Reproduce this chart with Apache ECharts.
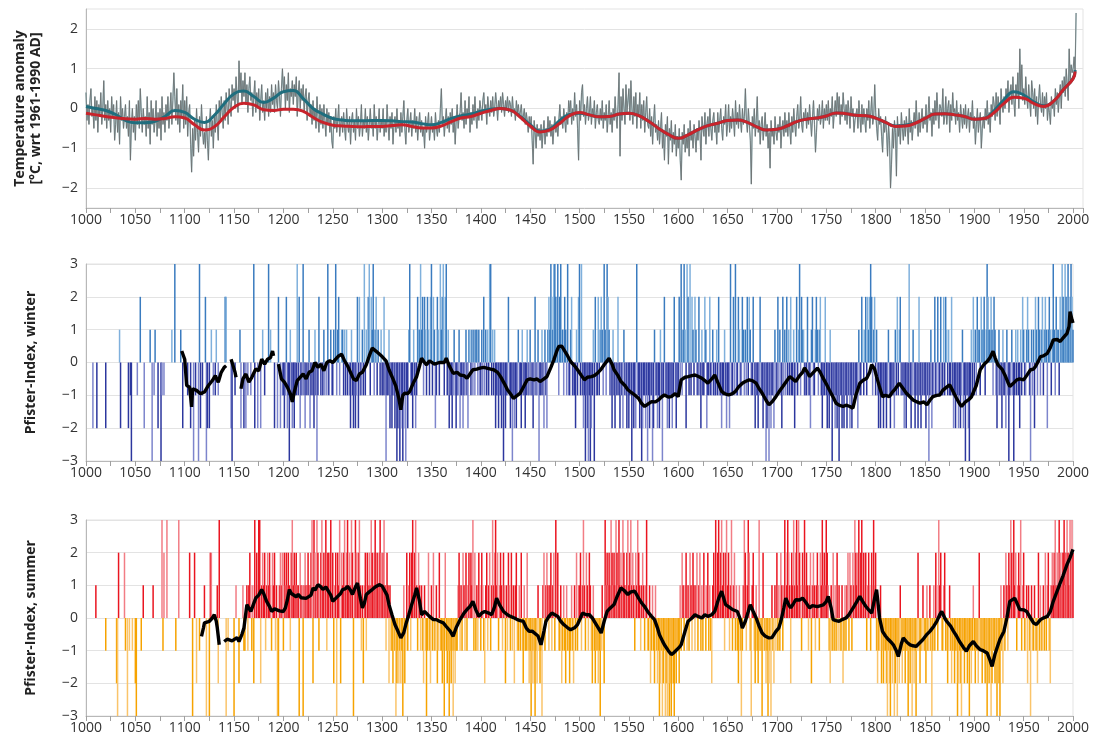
<!DOCTYPE html>
<html><head><meta charset="utf-8">
<script src="https://cdn.jsdelivr.net/npm/echarts@6/dist/echarts.min.js"></script>
<style>html,body{margin:0;padding:0;background:#fff}#c{width:1093px;height:740px}</style>
</head><body><div id="c"></div>
<script>
// ---- Temperature anomaly, annual values 1000..2003 ----
const tempStartYear = 1000;
const tempAnnual = [
0.4,-0.3,0.1,-0.4,0.2,0.5,-0.2,0.0,-0.5,0.3,
-0.3,0.2,-0.6,0.1,-0.2,0.4,-0.4,0.0,0.7,-0.3,
0.1,-0.5,0.2,-0.3,0.0,-0.6,0.3,-0.2,0.1,-0.8,
-0.4,0.2,-0.6,-0.1,-0.9,0.3,-0.3,0.0,-0.5,-0.2,
0.1,-0.5,-0.2,-0.7,0.2,-1.3,-0.4,0.0,-0.6,-0.2,
-0.8,0.1,-0.4,0.2,-0.5,0.5,-0.1,-0.6,0.0,-0.4,
-0.2,-0.7,0.3,-0.5,-0.1,-0.9,0.2,-0.4,0.0,-0.6,
-0.3,0.2,-0.7,-0.1,-0.5,0.0,-0.8,0.3,-0.4,-0.1,
-0.6,0.1,-0.3,0.3,-0.5,-0.1,0.4,-0.4,0.2,0.9,
0.3,-0.3,0.5,-0.4,0.1,-0.6,0.2,-0.2,0.6,-0.5,
0.2,-0.4,0.3,-0.7,-0.1,0.1,-0.9,-1.6,-0.5,-1.2,
-0.3,-0.8,0.0,-0.6,-1.1,-0.2,-0.7,0.1,-0.5,-0.9,
-0.6,-1.0,-0.2,-0.8,-1.3,-0.4,0.0,-0.7,-0.3,-1.0,
-0.2,-0.6,0.1,-0.4,-0.8,0.2,-0.3,0.3,-0.1,-0.5,
0.2,-0.3,0.4,0.0,-0.4,0.5,0.1,-0.2,0.6,0.2,
0.5,0.0,0.8,0.3,-0.1,1.2,0.4,0.9,0.1,0.7,
0.3,0.9,0.1,0.6,-0.1,0.5,0.8,0.2,0.4,-0.2,
0.3,0.7,-0.1,0.4,0.0,0.5,-0.3,0.2,0.6,-0.1,
0.2,-0.3,0.4,0.0,0.5,-0.2,0.3,-0.1,0.6,0.1,
0.4,-0.1,0.6,0.2,0.0,0.7,0.3,-0.2,0.5,1.0,
0.4,0.8,0.0,0.6,0.2,0.9,-0.1,0.5,0.3,0.7,
0.1,0.6,0.3,0.8,-0.2,0.4,0.7,0.0,0.5,0.2,
0.6,-0.1,0.3,0.5,-0.3,0.2,0.4,-0.2,0.1,-0.4,
0.2,-0.3,0.0,-0.5,0.3,-0.2,-0.6,0.1,-0.4,0.0,
-0.5,0.1,-0.3,-0.7,0.0,-0.4,-0.1,-0.6,-0.2,-0.8,
-1.0,-0.2,-0.5,0.0,-0.6,-0.3,0.1,-0.7,-0.4,-0.2,
-0.6,-0.1,-0.5,-0.8,0.0,-0.4,-0.6,-0.2,-0.9,-0.3,
-0.1,-0.6,-0.3,-0.8,0.0,-0.5,-0.2,-0.7,-0.4,0.1,
-0.7,-0.3,-0.5,0.0,-0.6,-0.2,-0.8,-0.4,0.0,-0.5,
-0.3,-0.7,0.1,-0.5,-0.2,-0.8,-0.4,0.0,-0.6,-0.3,
-0.5,0.0,-0.7,-0.3,-0.6,0.1,-0.4,-0.8,-0.2,-0.5,
-0.1,-0.9,-0.4,-0.2,-0.6,0.0,-0.5,-0.3,-0.7,-0.1,
-0.6,-0.2,0.2,-0.5,-0.9,-0.3,0.0,-0.6,-0.4,-0.1,
-0.7,-0.3,-0.5,0.0,-0.6,-0.2,-0.8,-0.4,-0.1,-0.6,
-0.3,-0.7,-0.5,-1.0,-0.2,-0.6,-0.4,-0.1,-0.8,-0.5,
-0.2,-0.6,-0.4,-0.8,-0.1,-0.5,-0.7,-0.3,-0.6,0.0,
0.5,-0.4,-0.2,-0.7,-0.3,0.0,-0.5,-0.2,-0.6,-0.1,
-0.4,0.0,-0.6,-0.2,-0.9,-0.3,0.1,-0.5,-0.2,-0.1,
0.4,-0.3,-0.1,-0.5,0.2,-0.4,0.0,-0.2,0.3,-0.6,
-0.1,-0.4,0.1,-0.3,0.3,-0.2,-0.5,0.0,-0.3,0.2,
0.0,-0.3,0.2,0.4,-0.1,0.1,-0.4,0.3,0.0,-0.2,
0.2,-0.1,0.3,-0.2,0.0,0.4,0.1,-0.3,0.2,0.0,
0.3,-0.1,0.4,0.1,-0.2,0.2,0.0,0.3,-0.1,0.2,
0.1,-0.2,0.3,-0.1,0.0,-0.3,0.2,-0.1,0.1,-0.2,
-0.1,0.1,-0.3,-0.2,0.0,-0.4,-0.1,-0.3,-0.6,-0.2,
-0.5,-0.2,-0.8,-1.4,-0.3,-0.6,-1.0,-0.4,-0.7,-0.5,
-0.8,-0.4,-1.0,-0.6,-0.3,-0.9,-0.5,-0.7,-0.2,-0.6,
-0.3,-0.7,-0.4,-0.9,-0.5,-0.2,-0.6,-0.4,-0.7,-0.3,
0.1,-0.4,-0.2,-0.5,0.0,-0.3,-0.6,-0.1,-0.4,0.2,
-0.1,0.2,-0.4,0.0,-0.3,0.4,-0.2,0.1,-0.5,-1.3,
0.2,-0.3,0.4,0.6,-0.2,0.1,-0.4,0.0,0.3,-0.3,
-0.1,0.3,-0.4,0.0,-0.2,0.2,-0.5,-0.1,0.1,-0.3,
-0.4,0.0,-0.3,0.2,-0.5,-0.1,-0.3,0.1,-0.6,-0.2,
0.2,-0.4,-0.1,-0.6,0.0,-0.3,0.3,-0.2,-0.5,0.1,
0.9,-1.2,0.3,-0.3,0.5,0.0,-0.4,0.6,-0.1,0.2,
0.5,-0.3,0.7,0.0,-0.4,0.3,-0.2,0.4,-0.5,0.1,
-0.2,0.4,-0.5,0.1,-0.3,0.2,-0.6,-0.1,0.3,-0.4,
-0.5,0.0,-0.7,-0.2,-0.9,-0.3,0.1,-0.6,-0.4,-0.8,
-0.3,-0.9,-0.5,-0.1,-1.0,-0.6,-1.3,-0.4,-0.7,-0.2,
-1.4,-0.5,-0.8,-0.3,-1.1,-0.6,-0.9,-0.4,-1.2,-0.7,
-1.0,-0.5,-1.3,-1.8,-0.6,-0.9,-0.4,-1.1,-0.7,-1.0,
-0.5,-1.2,-0.3,-0.8,-0.6,-1.0,-0.4,-0.7,-1.1,-0.5,
-0.8,-0.3,-0.6,-1.3,-0.2,-0.5,-0.7,-0.1,-0.9,-0.4,
-0.2,-0.7,0.0,-0.5,-0.8,-0.3,-0.1,-0.6,-0.4,-0.9,
-0.1,-0.6,-0.3,0.0,-0.5,-0.8,-0.2,-0.4,0.1,-0.7,
-0.4,0.1,-0.6,-0.2,-0.5,0.0,-0.3,-0.7,0.2,-0.4,
-0.1,-0.5,0.1,-0.3,-0.6,0.0,-0.4,-0.2,0.5,-0.3,
-0.6,0.0,-0.4,-0.8,-1.9,-0.2,-0.5,0.0,-0.7,-0.3,
0.3,-0.6,-0.3,-0.9,-0.4,-0.2,-0.8,-0.5,-0.1,-0.7,
-0.4,-1.0,-0.6,-1.5,-0.3,-0.7,-0.5,-0.9,-0.2,-0.6,
-0.8,-0.4,-0.6,-0.2,-1.0,-0.5,-0.3,-0.7,-0.1,-0.6,
-0.3,-0.7,-0.1,-0.5,-0.9,-0.2,-0.6,0.0,-0.4,-0.7,
-0.2,0.1,-0.5,-0.3,0.3,-0.4,-0.6,-0.1,-0.3,0.0,
-0.5,-0.1,-0.4,0.1,-0.3,-0.7,-0.2,0.2,-0.4,-1.1,
-0.6,0.0,-0.3,0.1,-0.4,-0.2,0.2,-0.5,0.0,-0.3,
0.1,-0.3,0.2,-0.4,0.0,-0.2,0.3,-0.5,-0.1,0.2,
-0.2,0.4,-0.1,0.3,-0.4,0.1,-0.2,0.4,0.0,-0.3,
0.1,-0.4,0.2,-0.1,-0.5,0.3,-0.2,0.0,-0.6,-0.3,
-0.3,0.0,-0.5,0.2,-0.2,-0.6,0.1,-0.4,0.0,-0.3,
-0.6,0.0,-0.3,0.2,-0.5,-0.1,0.3,-0.4,-0.2,0.6,
-0.1,-0.5,-0.8,0.0,-0.4,-0.2,-0.7,-1.1,-0.3,-0.6,
-0.2,-0.6,-1.2,-0.4,-0.8,-2.0,-1.4,-0.5,-1.0,-0.3,
-0.6,-1.7,-0.2,-0.7,-0.4,-0.9,-0.1,-0.5,-0.8,-0.3,
-0.7,-0.2,-0.5,-0.9,0.0,-0.6,-0.3,-0.8,-0.4,-0.1,
-0.5,0.2,-0.4,-0.7,-0.1,-0.6,-0.3,0.0,-0.5,-0.2,
-0.4,0.1,-0.6,-0.2,0.3,-0.3,-0.1,-0.7,0.0,-0.4,
0.2,-0.3,0.4,-0.1,-0.5,0.1,0.0,-0.2,0.5,-0.4,
-0.2,0.3,-0.4,0.0,0.2,-0.6,0.1,-0.3,0.4,-0.1,
0.0,-0.4,0.2,-0.3,-0.1,-0.6,0.1,-0.2,-0.5,0.0,
-0.4,0.1,-0.5,-0.2,0.0,-0.6,-0.1,-0.3,0.2,-0.5,
-0.2,-0.9,-0.4,0.0,-0.6,-0.3,-0.1,-1.0,-0.5,-0.2,
-0.5,0.0,-0.3,0.2,-0.4,-0.1,-0.6,0.1,-0.2,0.3,
0.1,-0.3,0.4,-0.2,0.3,0.0,-0.4,0.5,0.1,-0.1,
0.3,0.0,0.5,0.2,0.7,-0.1,0.4,0.6,0.1,0.8,
0.2,-0.2,0.6,0.3,0.9,0.0,1.5,0.4,1.1,0.2,
0.5,0.1,0.8,0.3,0.0,0.6,0.2,-0.2,0.7,0.4,
0.0,0.5,-0.2,0.3,-0.4,0.2,0.6,0.1,-0.1,0.4,
-0.2,0.3,0.0,0.4,-0.3,0.1,-0.1,-0.4,0.3,0.0,
0.2,-0.2,0.5,0.1,0.4,-0.1,0.3,0.6,0.0,0.7,
0.4,0.8,0.3,1.0,0.6,0.2,1.5,0.7,1.1,0.9,
1.0,1.3,0.9,2.4
];
// ---- Smoothed curves, every 10 years 1000..2000 plus 2002 ----
const smoothYears = [];
for (let y = 1000; y <= 2000; y += 10) smoothYears.push(y);
smoothYears.push(2002);
const tealSmooth = [
0.05,0.0,-0.05,-0.15,-0.3,-0.36,-0.36,-0.32,-0.2,-0.05,
-0.1,-0.27,-0.35,-0.17,0.12,0.37,0.44,0.3,0.15,0.26,
0.42,0.45,0.25,0.0,-0.14,-0.25,-0.29,-0.31,-0.31,-0.3,
-0.3,-0.31,-0.33,-0.34,-0.38,-0.41,-0.35,-0.25,-0.18,-0.14,
-0.07,-0.02,0.0,-0.04,-0.2,-0.41,-0.57,-0.52,-0.3,-0.15,
-0.12,-0.16,-0.21,-0.2,-0.14,-0.12,-0.18,-0.32,-0.5,-0.65,
-0.75,-0.66,-0.53,-0.43,-0.37,-0.3,-0.29,-0.35,-0.47,-0.54,
-0.52,-0.44,-0.33,-0.27,-0.24,-0.19,-0.11,-0.13,-0.17,-0.18,
-0.24,-0.35,-0.44,-0.42,-0.36,-0.25,-0.14,-0.13,-0.16,-0.2,
-0.27,-0.25,-0.05,0.22,0.42,0.34,0.17,0.07,0.18,0.47,
0.76,0.97
];
const redSmooth = [
-0.12,-0.16,-0.2,-0.23,-0.26,-0.27,-0.25,-0.27,-0.25,-0.21,
-0.24,-0.41,-0.54,-0.46,-0.21,0.03,0.13,0.09,-0.03,-0.05,
-0.02,-0.02,-0.07,-0.22,-0.35,-0.42,-0.44,-0.45,-0.46,-0.45,
-0.45,-0.43,-0.41,-0.45,-0.49,-0.49,-0.44,-0.33,-0.24,-0.2,
-0.12,-0.05,0.0,-0.04,-0.22,-0.44,-0.59,-0.54,-0.37,-0.18,
-0.1,-0.16,-0.21,-0.2,-0.14,-0.12,-0.18,-0.32,-0.5,-0.65,
-0.75,-0.66,-0.53,-0.43,-0.37,-0.3,-0.29,-0.35,-0.47,-0.54,
-0.52,-0.44,-0.33,-0.27,-0.24,-0.19,-0.11,-0.13,-0.17,-0.18,
-0.24,-0.35,-0.45,-0.44,-0.37,-0.25,-0.14,-0.13,-0.16,-0.2,
-0.27,-0.25,-0.1,0.13,0.28,0.26,0.13,0.05,0.18,0.47,
0.75,0.93
];
// ---- Pfister winter index, annual 1000..2000 ----
const winterIndex = [
0,0,0,0,0,0,0,-2,0,0, 0,-2,0,0,0,0,0,0,0,0, -2,0,0,0,0,0,0,0,0,0, 0,0,0,0,1,-2,0,0,0,0, 0,0,0,-2,0,-1,-3,0,0,0,
0,0,-1,0,0,2,0,0,0,-2, 0,0,0,0,0,1,0,-3,0,-1, 1,0,0,-2,0,0,-3,-1,0,-1, 0,0,0,0,0,0,0,1,0,0, 3,0,0,0,0,0,1,0,-2,0,
0,0,0,-1,0,0,-2,0,0,-3, 0,-1,0,0,-3,3,-2,0,-1,0, 0,2,-3,-2,0,-2,0,1,0,-1, 0,-1,1,0,-1,0,0,0,0,0, 0,2,2,0,0,0,0,-2,-3,0,
0,-1,0,0,0,0,1,-2,0,0, -2,0,-2,0,-1,0,0,-1,0,0, 3,-2,0,0,-2,0,0,-2,0,1, 0,-1,0,0,0,3,0,1,0,0, 0,-2,0,0,-2,2,0,-2,0,-1,
-1,-2,-1,2,-2,-1,-3,1,-1,-2, -1,-2,-1,-1,3,-1,2,-2,-1,-1, 3,-1,-2,-1,0,-1,1,-2,-1,0, -1,-2,1,-1,-3,-1,2,0,-1,-1, -1,1,-1,0,-1,3,-1,0,1,-1,
-1,1,0,3,-1,1,2,-1,0,1, 1,-1,1,-1,1,-1,0,-1,-2,1, -1,-2,-1,-2,-1,2,-2,2,-1,-1, 1,-1,3,-1,1,0,2,3,-1,2, 1,3,-1,1,2,-1,1,0,-1,1,
-1,-1,2,-1,-3,-1,-1,1,-2,-1, -2,-1,-1,-2,-1,-3,-2,-1,-3,-2, -1,-3,-2,-1,-3,-1,-2,1,3,-1, -1,-2,1,-1,-2,-1,2,1,1,3, 1,2,-1,2,1,-1,2,1,-1,2,
3,-1,2,1,-2,-1,2,1,-1,3, 1,2,3,-1,2,3,-1,1,-2,-1, -1,-2,-1,1,-1,-2,-1,-1,1,-2, -1,-1,-2,-1,-1,1,-1,-2,1,1, -1,1,-1,1,-1,1,1,-1,1,-1,
-1,1,-1,2,-1,1,-1,1,-1,3, 3,-1,1,-1,1,-2,-1,-1,-2,-1, -1,-2,-1,-3,-1,-2,-1,-1,2,-1, -2,-1,-3,-1,-2,-1,-2,-1,1,-1, -1,-2,1,-1,-1,-2,-1,1,-1,-1,
1,-1,-1,-2,-1,2,-1,-1,1,-3, -1,-1,1,-1,-2,1,-1,-2,1,2, 1,3,2,1,3,3,2,1,3,-1, 2,3,1,1,-1,2,1,-1,3,-1, -1,1,2,-1,-1,-1,-2,1,-1,2,
3,-1,3,-1,-2,-1,-3,-1,-2,-3, -1,-3,-2,-1,1,-3,2,-1,-1,2, -1,1,2,1,-1,3,1,-1,3,2, 1,-1,-1,-2,1,-1,-2,-1,-1,2, -1,-2,-1,-1,-2,1,-1,-1,-2,-1,
-2,-1,-1,-3,-1,-2,-1,-2,3,-1, -1,-2,-1,-3,-2,-1,-1,-2,-1,-3, -1,-2,-1,-1,-3,-2,1,-1,-1,-2, -1,-2,1,-1,-3,-1,2,-1,-1,-2, -1,-2,-1,-1,-2,-1,2,-1,-2,-1,
-1,2,-1,3,-1,1,3,1,-2,3, 2,-1,3,-1,2,1,-1,2,1,-1, -1,2,-1,-2,1,-1,-1,2,1,-2, -1,-1,2,-1,-1,1,-1,-1,-1,1, -1,2,-1,-1,-2,-1,-1,1,-1,-2,
-1,-1,-2,3,-1,-1,2,-1,3,-1, -1,2,1,-1,-1,2,1,-1,1,-1, 2,-1,2,1,-1,-1,2,-1,-2,-1, -1,-2,-1,2,-1,-1,-2,-1,-1,-3, -2,-1,-3,-1,-2,-1,-1,-2,1,-1,
-1,2,-1,1,-1,-2,2,-1,1,-1, 2,-1,1,-1,2,-1,-1,1,-2,-1, 2,-1,1,3,-1,2,1,1,-1,-1, -1,2,-1,-1,-2,1,2,-1,-1,1, 2,1,-1,1,2,-1,-2,-1,-1,2,
-1,-2,-1,-2,1,-1,-3,-1,-1,-2, -1,-2,-1,-3,-1,-1,-2,-1,-2,-1, -1,-2,-1,-1,-2,-1,-2,-1,-1,-1, -1,-1,-2,1,-1,-1,2,1,-1,1, 2,-1,2,1,2,3,2,-1,1,2,
-1,1,-1,-2,-1,-2,-1,-1,-2,-1, -1,-2,-1,1,-1,-2,-1,-1,-1,-2, 1,-1,2,-1,1,2,-1,-1,-1,-2, -1,-2,-1,-1,3,-1,-2,-1,1,-1, -2,-1,-1,-2,2,-1,-2,-1,-1,-1,
-1,-2,-1,-1,-3,-1,1,-2,-1,-1, 2,-1,-1,2,-1,-1,2,-1,-1,2, -1,2,1,-1,1,-1,-1,2,-1,-2, -1,-2,-1,-1,-2,-1,-2,-1,1,-2, -1,-3,-1,-1,-2,-3,-1,1,-1,2,
-1,1,-1,2,1,1,-1,2,1,1, 2,-1,1,3,2,1,1,2,1,-1, 2,1,-1,-2,-1,1,-1,-1,-2,1, -1,-1,-2,1,-1,-3,-1,-1,1,-1, -3,-1,1,-1,1,-1,-2,1,-1,2,
1,-1,-1,1,2,1,-1,-3,1,-1, 1,-2,2,1,-1,2,1,-1,1,2, -1,1,2,1,-2,1,2,1,-1,1, 3,1,-1,2,1,1,-1,2,1,3, 2,1,3,2,1,3,1,2,3,2,
1
];
// ---- Pfister summer index, annual 1000..2000 ----
const summerIndex = [
0,0,0,0,0,0,0,0,0,0, 1,0,0,0,0,0,0,0,0,0, -1,0,0,0,0,0,0,0,0,0, 0,-2,-3,2,0,0,0,0,0,2, -1,0,-3,0,-1,0,0,-1,0,0,
-2,-3,0,0,0,0,-1,0,1,0, 0,0,0,0,0,0,0,0,1,0, 0,0,0,0,0,0,0,3,-1,2, 0,0,3,0,0,0,0,0,0,0, 0,-1,0,0,3,0,0,0,0,0,
0,0,0,0,0,2,0,0,-3,0, 2,0,-2,0,0,-1,0,0,0,0, 1,0,-3,0,0,-3,2,2,0,0, 0,0,0,1,-2,3,0,0,0,0, 0,0,-3,0,-1,0,0,0,0,0,
-3,0,1,0,0,-2,0,0,0,1, -1,-1,0,1,-1,1,2,1,-1,1, -2,3,1,2,1,3,3,-2,1,2, 1,2,-1,1,2,1,2,1,-1,2, 1,2,-1,1,-3,-3,1,2,1,2,
-1,2,1,2,1,2,1,-1,2,3, 1,2,1,2,1,1,-3,2,1,1, -3,1,2,1,1,2,1,1,2,3, -2,3,2,1,3,2,-1,1,2,3, 1,2,1,3,-1,2,2,1,3,1,
2,-2,1,2,-3,2,1,3,-2,2, 1,2,3,1,2,3,1,2,1,3, 2,-3,1,3,2,1,2,3,1,-1, 1,-2,1,2,-1,2,1,2,1,3, 2,1,2,3,1,2,1,2,3,2,
1,2,3,1,-1,2,1,-2,1,-1, -1,-2,-1,-1,-3,-2,-1,-2,-1,-2, -1,-3,1,-2,-1,2,-1,1,2,-1, 2,3,1,2,3,1,-1,2,1,-1, 1,-1,-2,1,-1,-3,-1,2,-1,-2,
1,-1,2,-1,-1,1,-2,-1,2,-1, -1,-2,-1,-3,2,-1,-2,-1,-3,-1, -2,-1,-3,-1,-2,-1,-1,1,2,-1, 1,-1,2,1,-1,2,-1,1,2,1, 2,1,3,-1,2,-1,1,-1,2,1,
-1,2,1,-1,-2,1,2,-1,1,2, -1,1,3,1,2,3,1,2,-1,1, 2,1,-1,2,1,-2,1,-1,2,1, -1,2,-1,1,-2,1,2,-1,-1,1, -1,2,-1,-2,1,-1,-1,2,-1,-2,
-1,-3,-2,-1,-2,-3,-1,-2,1,-1, -2,-1,-3,1,2,-1,1,2,1,-1, 1,2,-1,1,2,-1,3,1,2,-1, -1,1,-2,-1,1,-1,-2,1,-1,-1, -2,-1,1,-1,-2,1,-1,2,-1,1,
1,2,-1,1,3,1,-1,2,1,-1, 2,1,-1,-2,1,-1,-2,-1,-1,-2, -1,-3,-1,1,-1,-2,3,1,2,1, 2,1,3,2,1,2,1,3,2,1, 3,1,2,1,3,2,1,1,2,3,
1,2,3,1,2,1,-1,2,1,3, 2,1,-1,1,2,1,-1,1,3,-1, -1,1,-2,-1,1,-1,-2,1,-1,-2, -1,-3,-2,-1,-3,-2,-1,-3,-2,-3, -1,-3,-2,-3,-1,-2,-3,-1,-2,-1,
-1,-2,1,-1,2,1,-1,1,2,-1, 1,-1,2,1,-1,2,1,-1,1,2, -1,1,2,-1,1,-1,2,1,-1,1, 2,-1,1,-1,-2,1,2,1,3,1, 2,3,1,2,3,1,2,-1,2,3,
1,2,-1,1,3,-1,1,2,-1,1, -1,-2,1,-1,-3,-1,1,3,2,-1, 1,3,2,-1,-3,1,2,-1,-2,1, -1,-2,3,-1,-1,-3,2,-1,-1,-2, -1,-3,-2,-1,-3,1,-1,-2,1,-1,
2,-1,1,-1,2,1,-1,1,3,2, 1,3,2,1,-2,2,1,3,1,2, 3,1,3,2,1,-1,2,1,3,1, 2,1,-1,1,2,-2,1,2,1,-1, 1,2,1,-1,2,1,3,1,2,1,
3,2,1,-1,-2,1,-1,2,-1,1, -1,2,-1,1,-1,-1,1,-2,-1,1, -1,1,2,-1,2,1,-1,2,1,3, 2,1,2,3,1,2,3,1,2,1, 2,-1,1,2,1,-1,2,1,3,1,
2,-1,-2,-1,-1,1,-2,-1,-2,-1, -1,-2,-3,-1,-2,-3,-1,-2,-1,-3, -2,-1,-3,-1,-2,1,-1,-2,-1,-1, -2,-1,-1,-3,-1,-2,-1,-3,-1,-2, -1,-3,-1,2,-1,-2,-1,-1,1,-1,
-1,-2,1,-1,-1,1,-1,-3,-1,1, -1,2,1,-1,3,1,2,-1,-1,1, 2,-1,-1,-2,-1,1,-1,-2,-1,-1, -2,-1,-1,-3,-2,-1,-2,-3,-1,-1, -2,-1,-1,-2,-1,-3,-1,-2,-1,1,
-1,-2,-1,-1,-2,2,-1,-1,-2,-1, -1,-2,-1,-3,-1,-2,-1,-3,-2,-1, -1,-2,-1,-3,-1,-2,-3,1,-1,-2, 1,-1,2,1,-1,2,1,3,2,1, 3,1,2,-1,1,2,1,3,-1,1,
2,-1,-1,1,-2,1,-1,-3,1,-1, -1,1,-1,-1,-2,2,-1,1,-1,-1, 1,-1,2,-1,1,2,-1,-2,1,2, 1,2,3,1,2,1,3,2,1,2, 2,3,1,2,3,2,1,3,2,3,
2
];
// ---- Running means (year, index); '-' marks a gap ----
const winterMean = [[1097,0.35],[1100,0.1],[1102,-0.7],[1105,-0.75],[1107,-1.35],[1108,-0.8],[1112,-0.85],[1116,-0.95],[1120,-0.9],[1124,-0.7],[1128,-0.55],[1131,-0.4],[1134,-0.6],[1137,-0.3],[1140,-0.15],[1142,-0.1],[1144,'-'],[1147,0.1],[1149,0.05],[1151,-0.3],[1152,-0.45],[1154,'-'],[1157,-0.8],[1159,-0.5],[1162,-0.35],[1165,-0.6],[1168,-0.45],[1172,-0.2],[1175,-0.25],[1178,0.1],[1181,-0.05],[1184,0.1],[1187,0.15],[1189,0.35],[1190,0.2],[1192,'-'],[1195,-0.05],[1198,-0.5],[1201,-0.6],[1204,-0.75],[1207,-0.95],[1209,-1.2],[1211,-0.9],[1214,-0.55],[1217,-0.45],[1220,-0.35],[1223,-0.5],[1226,-0.3],[1229,-0.25],[1232,0.0],[1235,-0.15],[1238,-0.05],[1241,-0.25],[1244,0.0],[1247,0.05],[1250,0.0],[1253,0.1],[1256,0.2],[1259,0.25],[1262,0.05],[1265,-0.1],[1268,-0.3],[1271,-0.5],[1274,-0.55],[1277,-0.35],[1280,-0.3],[1284,-0.07],[1287,0.2],[1290,0.44],[1294,0.34],[1300,0.18],[1304,0.05],[1307,-0.22],[1311,-0.5],[1314,-0.73],[1317,-1.1],[1319,-1.44],[1321,-1.0],[1323,-0.93],[1326,-0.95],[1328,-0.88],[1332,-0.6],[1335,-0.43],[1338,-0.1],[1340,0.13],[1343,0.0],[1345,-0.07],[1348,0.05],[1350,0.08],[1353,-0.05],[1355,-0.07],[1358,0.0],[1360,0.03],[1363,0.0],[1365,0.13],[1368,-0.1],[1372,-0.33],[1376,-0.3],[1379,-0.38],[1383,-0.4],[1386,-0.48],[1389,-0.35],[1392,-0.22],[1396,-0.2],[1399,-0.17],[1403,-0.15],[1406,-0.17],[1410,-0.2],[1413,-0.22],[1417,-0.3],[1420,-0.43],[1424,-0.65],[1427,-0.83],[1430,-0.95],[1433,-1.09],[1437,-1.0],[1440,-0.93],[1444,-0.7],[1447,-0.53],[1450,-0.5],[1454,-0.53],[1457,-0.5],[1460,-0.58],[1464,-0.5],[1467,-0.43],[1471,-0.15],[1474,0.08],[1477,0.35],[1479,0.49],[1482,0.5],[1484,0.44],[1488,0.2],[1491,0.03],[1495,-0.1],[1498,-0.22],[1502,-0.4],[1505,-0.53],[1508,-0.45],[1512,-0.43],[1515,-0.4],[1518,-0.33],[1522,-0.2],[1525,-0.07],[1528,0.05],[1530,0.13],[1533,-0.05],[1535,-0.22],[1539,-0.4],[1542,-0.58],[1546,-0.7],[1549,-0.83],[1552,-0.9],[1556,-0.99],[1560,-1.1],[1563,-1.25],[1566,-1.34],[1570,-1.25],[1573,-1.19],[1577,-1.2],[1580,-1.14],[1583,-1.05],[1586,-0.99],[1590,-1.05],[1593,-1.04],[1597,-0.95],[1600,-1.04],[1603,-0.53],[1607,-0.45],[1610,-0.43],[1614,-0.4],[1617,-0.38],[1620,-0.42],[1624,-0.48],[1627,-0.55],[1630,-0.63],[1634,-0.5],[1637,-0.38],[1640,-0.6],[1644,-0.88],[1647,-0.95],[1651,-0.99],[1655,-0.95],[1658,-0.88],[1661,-0.75],[1665,-0.63],[1668,-0.58],[1672,-0.53],[1675,-0.55],[1679,-0.63],[1682,-0.8],[1685,-0.93],[1689,-1.15],[1692,-1.29],[1695,-1.2],[1699,-1.04],[1702,-0.9],[1706,-0.73],[1709,-0.6],[1713,-0.43],[1716,-0.5],[1719,-0.58],[1723,-0.4],[1726,-0.3],[1728,-0.17],[1731,-0.3],[1733,-0.43],[1737,-0.3],[1741,-0.17],[1744,-0.3],[1746,-0.43],[1750,-0.65],[1753,-0.83],[1756,-1.0],[1760,-1.24],[1763,-1.3],[1767,-1.34],[1770,-1.3],[1774,-1.34],[1777,-1.39],[1780,-1.0],[1784,-0.63],[1787,-0.55],[1791,-0.48],[1794,-0.3],[1796,-0.07],[1799,-0.2],[1801,-0.43],[1804,-0.75],[1807,-1.04],[1810,-1.0],[1814,-1.04],[1817,-0.9],[1820,-0.8],[1824,-0.63],[1828,-0.8],[1831,-0.93],[1835,-1.05],[1838,-1.14],[1842,-1.2],[1845,-1.24],[1849,-1.2],[1852,-1.29],[1855,-1.15],[1858,-1.04],[1862,-1.0],[1865,-0.99],[1868,-0.85],[1872,-0.75],[1875,-0.68],[1878,-0.85],[1882,-1.09],[1885,-1.25],[1887,-1.34],[1891,-1.2],[1894,-1.14],[1897,-1.05],[1899,-1.04],[1902,-0.7],[1906,-0.22],[1910,-0.05],[1913,0.03],[1916,0.15],[1919,0.34],[1921,0.15],[1924,-0.07],[1928,-0.2],[1931,-0.38],[1934,-0.6],[1936,-0.73],[1939,-0.65],[1943,-0.53],[1946,-0.5],[1950,-0.53],[1953,-0.4],[1957,-0.22],[1960,-0.2],[1962,-0.12],[1965,0.05],[1967,0.18],[1970,0.2],[1974,0.28],[1977,0.45],[1980,0.69],[1984,0.7],[1987,0.64],[1990,0.75],[1994,0.89],[1996,1.1],[1997,1.55],[1999,1.3],[2000,1.2]];
const summerMean = [[1117,-0.56],[1119,-0.3],[1120,-0.15],[1122,-0.2],[1125,-0.1],[1128,0.0],[1130,0.1],[1132,-0.1],[1133,-0.3],[1135,-0.82],[1137,'-'],[1140,-0.72],[1143,-0.65],[1145,-0.61],[1148,-0.7],[1150,-0.66],[1153,-0.6],[1155,-0.72],[1158,-0.5],[1160,-0.31],[1163,0.41],[1165,0.3],[1167,0.2],[1170,0.45],[1172,0.61],[1175,0.7],[1178,0.87],[1180,0.75],[1183,0.51],[1186,0.35],[1188,0.2],[1191,0.28],[1193,0.31],[1196,0.22],[1198,0.26],[1200,0.2],[1202,0.31],[1204,0.55],[1206,0.87],[1208,0.75],[1210,0.72],[1213,0.65],[1215,0.72],[1218,0.62],[1220,0.66],[1223,0.6],[1225,0.66],[1228,0.7],[1230,0.92],[1232,0.85],[1235,1.02],[1238,0.95],[1240,0.87],[1243,0.95],[1245,0.9],[1248,0.7],[1250,0.51],[1253,0.6],[1255,0.66],[1258,0.75],[1260,0.87],[1263,0.9],[1265,0.97],[1268,0.85],[1270,0.72],[1273,0.95],[1275,1.07],[1278,0.6],[1280,0.31],[1282,0.45],[1284,0.72],[1287,0.8],[1290,0.87],[1293,0.95],[1297,1.02],[1300,0.98],[1302,0.92],[1305,0.7],[1307,0.41],[1310,0.1],[1313,-0.2],[1316,-0.4],[1319,-0.61],[1322,-0.45],[1324,-0.2],[1327,0.1],[1330,0.41],[1333,0.7],[1335,0.92],[1338,0.5],[1340,0.1],[1343,0.2],[1345,0.15],[1348,0.05],[1352,-0.05],[1355,-0.05],[1358,-0.1],[1362,-0.15],[1365,-0.26],[1369,-0.4],[1372,-0.56],[1375,-0.3],[1379,-0.05],[1383,0.15],[1386,0.26],[1389,0.35],[1392,0.51],[1395,0.25],[1398,0.05],[1401,0.15],[1404,0.2],[1408,0.15],[1411,0.1],[1414,0.35],[1416,0.61],[1419,0.4],[1423,0.2],[1427,0.1],[1430,0.05],[1434,0.0],[1437,-0.05],[1440,-0.08],[1443,-0.1],[1446,-0.3],[1449,-0.41],[1452,-0.4],[1454,-0.46],[1458,-0.55],[1461,-0.82],[1464,-0.4],[1466,-0.1],[1469,0.05],[1472,0.15],[1475,0.1],[1478,0.05],[1481,-0.1],[1484,-0.2],[1488,-0.3],[1491,-0.36],[1495,-0.3],[1498,-0.2],[1501,0.0],[1503,0.15],[1507,0.1],[1510,0.1],[1513,0.0],[1515,-0.1],[1519,-0.3],[1522,-0.46],[1525,-0.1],[1528,0.2],[1531,0.3],[1535,0.41],[1538,0.65],[1542,0.92],[1545,0.85],[1549,0.72],[1552,0.8],[1556,0.82],[1560,0.6],[1563,0.46],[1566,0.35],[1569,0.2],[1573,0.05],[1576,-0.05],[1579,-0.3],[1581,-0.51],[1584,-0.7],[1586,-0.82],[1590,-1.0],[1593,-1.12],[1596,-1.05],[1598,-1.02],[1601,-0.9],[1603,-0.82],[1607,-0.4],[1610,-0.1],[1614,0.0],[1617,0.1],[1620,0.05],[1624,0.0],[1627,0.1],[1630,0.05],[1634,0.1],[1637,0.2],[1641,0.6],[1644,0.82],[1646,0.8],[1648,0.41],[1651,0.35],[1655,0.26],[1660,0.2],[1663,-0.05],[1665,-0.31],[1668,-0.1],[1671,0.2],[1673,0.41],[1676,0.2],[1679,0.0],[1682,-0.25],[1685,-0.46],[1688,-0.55],[1692,-0.61],[1695,-0.6],[1699,-0.41],[1702,-0.3],[1704,-0.1],[1707,0.3],[1709,0.61],[1712,0.4],[1714,0.31],[1717,0.45],[1719,0.56],[1723,0.55],[1726,0.61],[1730,0.45],[1733,0.31],[1736,0.38],[1738,0.41],[1741,0.35],[1743,0.31],[1747,0.4],[1750,0.5],[1752,0.66],[1755,0.3],[1757,-0.05],[1760,-0.08],[1763,-0.1],[1766,-0.05],[1770,0.0],[1773,0.1],[1775,0.15],[1778,0.35],[1781,0.5],[1784,0.66],[1787,0.5],[1790,0.36],[1793,0.25],[1796,0.15],[1799,0.6],[1801,0.87],[1803,0.3],[1804,0.0],[1807,-0.41],[1810,-0.55],[1813,-0.66],[1816,-0.75],[1818,-0.82],[1821,-1.0],[1823,-1.18],[1826,-0.8],[1828,-0.61],[1832,-0.75],[1835,-0.82],[1838,-0.85],[1841,-0.87],[1845,-0.75],[1848,-0.66],[1852,-0.5],[1855,-0.41],[1859,-0.25],[1862,-0.1],[1865,0.1],[1867,0.2],[1870,0.0],[1872,-0.1],[1876,-0.25],[1879,-0.41],[1882,-0.55],[1885,-0.72],[1889,-0.9],[1892,-1.02],[1895,-0.85],[1899,-0.72],[1902,-0.85],[1906,-0.97],[1909,-1.0],[1913,-1.07],[1916,-1.3],[1918,-1.48],[1921,-1.1],[1923,-0.92],[1926,-0.65],[1930,-0.41],[1933,0.0],[1936,0.51],[1938,0.55],[1941,0.61],[1944,0.4],[1946,0.26],[1950,0.25],[1953,0.2],[1957,0.0],[1960,-0.15],[1963,-0.2],[1967,-0.05],[1970,0.0],[1974,0.05],[1977,0.2],[1980,0.51],[1983,0.75],[1987,1.07],[1990,1.3],[1994,1.64],[1997,1.85],[2000,2.1]];

const yName1 = 'Temperature anomaly\n[°C, wrt 1961-1990 AD]';
const yName2 = 'Pfister-Index, winter';
const yName3 = 'Pfister-Index, summer';

// ---- build ----
const FONT = '"Open Sans", "Noto Sans", sans-serif';
const minus = v => String(v).replace('-', '\u2212');
const tempData = tempAnnual.map((v, i) => [tempStartYear + i, v]);
const tealData = tealSmooth.map((v, i) => [smoothYears[i], v]);
const redData = redSmooth.map((v, i) => [smoothYears[i], v]);
const winterData = winterIndex.map((v, i) => [1000 + i, v]);
const summerData = summerIndex.map((v, i) => [1000 + i, v]);

// two tones per sign (bars in the original render in a light and a dark shade)
const shade = i => ((i * 7) % 5) < 3;
const winterColor = p => p.value[1] > 0
  ? (shade(p.dataIndex) ? '#3a7bbf' : '#7fb0dc')
  : (shade(p.dataIndex) ? '#2c379e' : '#7d85cc');
const summerColor = p => p.value[1] > 0
  ? (shade(p.dataIndex) ? '#ea1520' : '#f27d85')
  : (shade(p.dataIndex) ? '#f6a300' : '#fac46a');

function xAxis(gi, max) {
  return {
    type: 'value', gridIndex: gi, min: 1000, max: max, interval: 25,
    axisLine: { show: true, onZero: false, lineStyle: { color: '#b8b8b8' } },
    axisTick: { show: true, length: 5, lineStyle: { color: '#a0a0a0' } },
    splitLine: { show: false },
    axisLabel: { color: '#333', fontSize: 14, fontFamily: FONT, margin: 5,
      formatter: v => (v % 50 === 0 && v <= 2000) ? String(v) : '' }
  };
}
function yAxisIdx(gi, name) {
  return {
    type: 'value', gridIndex: gi, min: -3, max: 3, interval: 1,
    name: name, nameLocation: 'middle', nameGap: 48,
    nameTextStyle: { color: '#222', fontSize: 14, fontWeight: 'bold', fontFamily: FONT },
    axisLine: { show: true, lineStyle: { color: '#b8b8b8' } },
    axisTick: { show: false },
    splitLine: { show: true, lineStyle: { color: '#e3e3e3' } },
    axisLabel: { color: '#333', fontSize: 14, fontFamily: FONT, margin: 8, formatter: v => minus(v) }
  };
}

const chart = echarts.init(document.getElementById('c'), null, { renderer: 'canvas' });
chart.setOption({
  animation: false,
  backgroundColor: '#fff',
  grid: [
    { left: 86, top: 9, width: 997, height: 199, show: true, borderColor: '#e3e3e3', borderWidth: 1 },
    { left: 86, top: 264, width: 987, height: 197, show: true, borderColor: '#e3e3e3', borderWidth: 1 },
    { left: 86, top: 520, width: 987, height: 196, show: true, borderColor: '#e3e3e3', borderWidth: 1 }
  ],
  xAxis: [xAxis(0, 2010), xAxis(1, 2000), xAxis(2, 2000)],
  yAxis: [
    {
      type: 'value', gridIndex: 0, min: -2.5, max: 2.5, interval: 0.5,
      name: yName1, nameLocation: 'middle', nameGap: 42,
      nameTextStyle: { color: '#222', fontSize: 14, fontWeight: 'bold', fontFamily: FONT, lineHeight: 16 },
      axisLine: { show: true, lineStyle: { color: '#b8b8b8' } },
      axisTick: { show: false },
      splitLine: { show: true, lineStyle: { color: ['rgba(0,0,0,0)', '#e3e3e3'] } },
      axisLabel: { color: '#333', fontSize: 14, fontFamily: FONT, margin: 8,
        formatter: v => Number.isInteger(v) ? minus(v) : '' }
    },
    yAxisIdx(1, yName2),
    yAxisIdx(2, yName3)
  ],
  series: [
    { type: 'line', xAxisIndex: 0, yAxisIndex: 0, data: tempData, showSymbol: false,
      lineStyle: { color: '#9ec3c9', width: 1.3 }, z: 1 },
    { type: 'line', xAxisIndex: 0, yAxisIndex: 0, data: tempData, showSymbol: false,
      lineStyle: { color: '#6c6c6c', width: 0.8 }, z: 2 },
    { type: 'line', xAxisIndex: 0, yAxisIndex: 0, data: tealData, showSymbol: false, smooth: 0.5,
      lineStyle: { color: '#1f6e7e', width: 3 }, z: 3 },
    { type: 'line', xAxisIndex: 0, yAxisIndex: 0, data: redData, showSymbol: false, smooth: 0.5,
      lineStyle: { color: '#c8232b', width: 3 }, z: 4 },
    { type: 'bar', xAxisIndex: 1, yAxisIndex: 1, data: winterData, barWidth: 1.5,
      itemStyle: { color: winterColor }, z: 1 },
    { type: 'line', xAxisIndex: 1, yAxisIndex: 1, data: winterMean, showSymbol: false, connectNulls: false,
      lineStyle: { color: '#000', width: 3.4 }, z: 5 },
    { type: 'bar', xAxisIndex: 2, yAxisIndex: 2, data: summerData, barWidth: 1.5,
      itemStyle: { color: summerColor }, z: 1 },
    { type: 'line', xAxisIndex: 2, yAxisIndex: 2, data: summerMean, showSymbol: false, connectNulls: false,
      lineStyle: { color: '#000', width: 3.4 }, z: 5 }
  ]
});
</script></body></html>
